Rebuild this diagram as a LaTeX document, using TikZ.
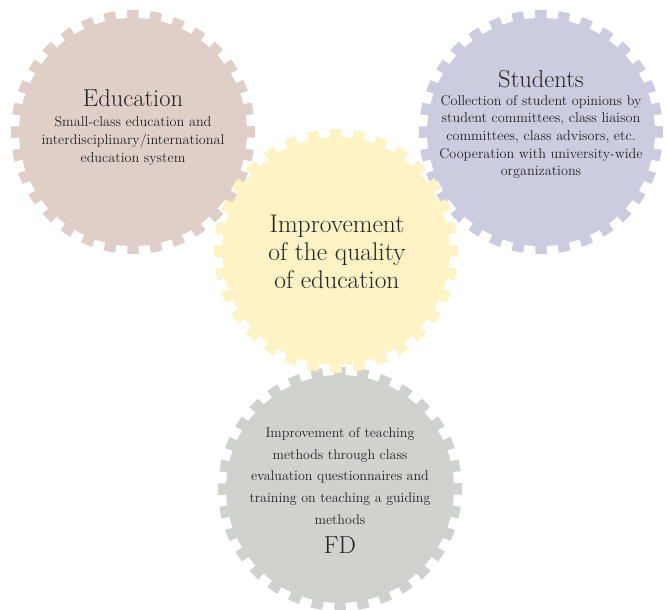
\documentclass[tikz,border=0pt]{standalone}
\usepackage{fontspec}
\definecolor{edu}{HTML}{E0CFC9}
\definecolor{stu}{HTML}{CBCCDF}
\definecolor{qual}{HTML}{FDF3C5}
\definecolor{fdc}{HTML}{CFD2CD}
\definecolor{txt}{HTML}{222222}
\begin{document}
\begin{tikzpicture}[x=1pt,y=-1pt,
  gearbody/.style={circle, minimum size=228pt, inner sep=0pt, draw=none},
  teeth/.style={line width=16pt, dash pattern=on 11.19pt off 11.19pt, dash phase=5.6pt},
  titletext/.style={text=txt, font=\fontsize{24.5}{29}\selectfont, align=center},
  bodytext/.style={text=txt, font=\fontsize{14.2}{17.6}\selectfont, align=center},
  fdtext/.style={text=txt, font=\fontsize{14}{21.6}\selectfont, align=center},
  qualtext/.style={text=txt, font=\fontsize{25.5}{27.8}\selectfont, align=center}]
\useasboundingbox (0,0) rectangle (667,610);
% gears
\node[gearbody, fill=edu] (edu) at (133,132) {};
\draw[teeth, draw=edu] (edu.center) circle (114);
\node[gearbody, fill=stu] (stu) at (541,132) {};
\draw[teeth, draw=stu] (stu.center) circle (114);
\node[gearbody, fill=fdc] (fd) at (340,489) {};
\draw[teeth, draw=fdc] (fd.center) circle (114);
\node[gearbody, fill=qual] (qual) at (336,251) {};
\draw[teeth, draw=qual] (qual.center) circle (114);
% texts
\node[titletext] (eduT) at (133,98) {Education};
\node[bodytext] (eduB) at (133,141) {Small-class education and\\interdisciplinary/international\\education system};
\node[titletext] (stuT) at (541,79) {Students};
\node[bodytext] (stuB) at (541,137) {Collection of student opinions by\\student committees, class liaison\\committees, class advisors, etc.\\Cooperation with university-wide\\organizations};
\node[qualtext] (qualT) at (337,252) {Improvement\\of the quality\\of education};
\node[fdtext] (fdB) at (340,476) {Improvement of teaching\\methods through class\\evaluation questionnaires and\\training on teaching a guiding\\methods};
\node[titletext] (fdT) at (340,545) {FD};
\end{tikzpicture}
\end{document}
